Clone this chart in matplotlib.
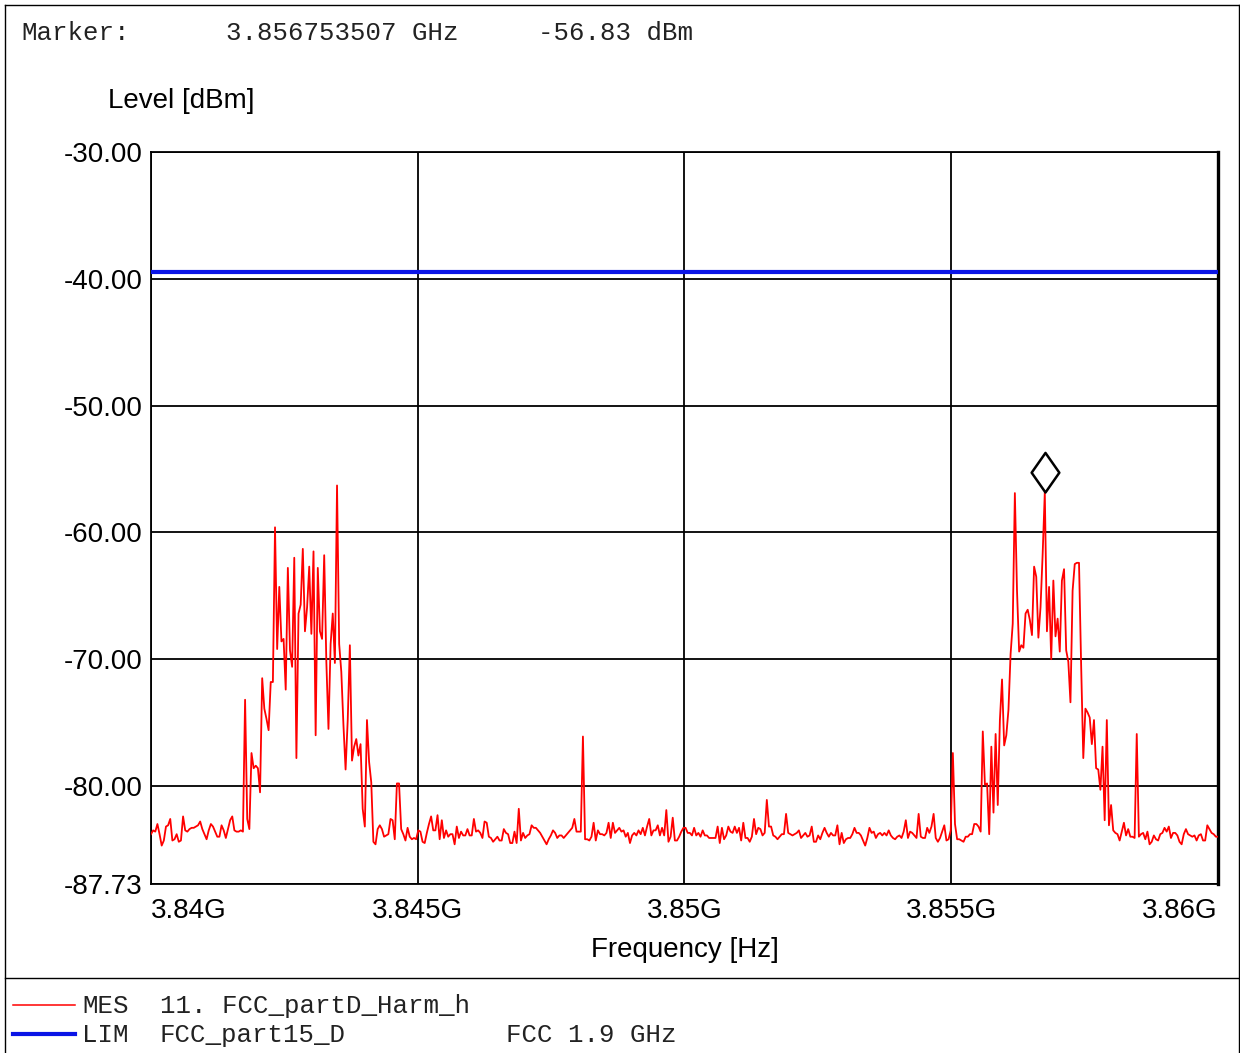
import numpy as np
import matplotlib
matplotlib.use("Agg")
import matplotlib.pyplot as plt
from matplotlib.lines import Line2D
from matplotlib.path import Path

# sweep settings: 3.84 - 3.86 GHz, 500 points
f_start = 3.84e9
f_stop = 3.86e9
n_points = 500

# measured level [dBm], one value per sweep point
level = [
    -83.8, -83.5, -83.6, -83.0, -83.8, -84.7, -84.3, -83.2, -83.1, -82.6,
    -84.3, -84.2, -83.8, -84.4, -84.3, -82.4, -83.5, -83.6, -83.4, -83.3,
    -83.3, -83.2, -83.1, -82.8, -83.4, -83.8, -84.2, -83.5, -83.0, -83.2,
    -83.6, -84.0, -84.0, -83.1, -83.5, -84.1, -83.4, -82.7, -82.4, -83.5,
    -83.6, -83.6, -83.5, -83.6, -73.2, -82.6, -83.4, -77.4, -78.6, -78.4,
    -78.6, -80.5, -71.5, -73.9, -74.7, -75.6, -71.8, -71.8, -59.6, -69.2,
    -64.3, -68.6, -68.4, -72.4, -62.8, -69.3, -70.6, -62.0, -77.8, -66.4,
    -65.7, -61.3, -67.8, -65.9, -62.7, -68.0, -61.5, -76.0, -62.8, -67.8,
    -68.4, -61.8, -70.2, -75.5, -68.8, -66.4, -70.3, -56.3, -68.8, -71.0,
    -75.2, -78.7, -74.8, -68.9, -78.0, -76.9, -76.3, -77.6, -76.7, -81.8,
    -83.2, -74.8, -78.1, -79.7, -84.4, -84.6, -83.4, -83.1, -83.4, -84.0,
    -83.9, -83.8, -82.6, -82.7, -84.2, -79.8, -79.8, -83.4, -83.8, -84.3,
    -83.3, -84.0, -84.2, -84.1, -84.2, -83.5, -83.6, -84.4, -84.5, -83.7,
    -83.0, -82.4, -83.5, -83.5, -82.3, -84.2, -82.7, -84.1, -83.5, -84.0,
    -83.8, -83.8, -84.6, -83.2, -84.1, -83.6, -83.9, -83.9, -83.4, -83.9,
    -83.9, -82.6, -83.6, -83.5, -83.7, -84.1, -82.8, -82.9, -84.0, -84.1,
    -84.4, -84.2, -84.0, -84.3, -84.3, -83.4, -83.7, -83.8, -84.5, -84.5,
    -83.6, -84.5, -81.8, -84.3, -83.7, -84.1, -83.9, -83.8, -83.1, -83.3,
    -83.3, -83.5, -83.7, -84.0, -84.3, -84.6, -84.2, -83.9, -83.5, -83.7,
    -84.1, -83.9, -83.9, -84.1, -83.9, -83.7, -83.5, -83.3, -82.6, -83.6,
    -83.6, -83.6, -76.1, -84.2, -84.2, -84.3, -84.0, -82.9, -84.3, -83.5,
    -83.8, -83.8, -83.9, -83.7, -82.9, -84.1, -82.9, -83.7, -83.5, -83.3,
    -83.6, -83.5, -84.0, -83.7, -84.5, -83.9, -83.7, -83.9, -83.5, -83.8,
    -83.3, -83.9, -83.2, -82.6, -83.9, -83.5, -83.5, -83.1, -83.9, -83.3,
    -83.9, -81.9, -84.4, -84.0, -82.5, -84.3, -84.3, -84.0, -83.6, -83.3,
    -83.3, -83.7, -83.7, -83.9, -83.3, -83.9, -83.7, -84.0, -83.5, -83.9,
    -83.9, -84.1, -84.1, -84.1, -84.1, -83.2, -84.5, -83.3, -84.2, -83.9,
    -83.2, -83.6, -83.7, -83.2, -83.7, -83.3, -84.3, -82.9, -84.1, -84.1,
    -84.4, -84.0, -82.6, -83.8, -83.3, -83.4, -83.9, -83.7, -81.1, -83.2,
    -83.2, -83.9, -84.0, -84.2, -84.0, -83.8, -83.8, -82.2, -83.7, -83.8,
    -83.9, -83.8, -83.7, -83.5, -84.1, -83.9, -83.7, -84.0, -83.9, -83.2,
    -84.4, -84.4, -83.9, -84.2, -83.7, -83.3, -83.7, -84.0, -83.7, -83.9,
    -83.9, -83.1, -84.6, -83.7, -84.5, -84.2, -84.1, -84.1, -83.8, -83.3,
    -83.7, -83.7, -83.9, -84.3, -84.7, -84.1, -83.3, -83.7, -83.6, -84.1,
    -83.8, -83.7, -83.9, -83.7, -83.9, -83.5, -83.9, -84.1, -84.2, -84.0,
    -83.9, -84.1, -83.6, -82.7, -84.1, -83.6, -83.7, -83.9, -84.1, -82.2,
    -84.0, -84.1, -84.1, -83.3, -83.7, -83.2, -82.2, -84.1, -84.4, -84.1,
    -83.6, -83.1, -84.3, -84.2, -83.5, -77.4, -83.0, -84.2, -84.2, -84.3,
    -84.4, -84.0, -84.0, -83.8, -83.8, -83.0, -83.0, -83.2, -83.6, -75.7,
    -79.9, -79.8, -83.8, -76.9, -82.1, -75.9, -81.5, -74.8, -71.6, -76.8,
    -76.0, -74.0, -69.6, -67.2, -56.9, -64.6, -69.4, -68.9, -69.1, -66.4,
    -66.1, -66.9, -68.1, -62.7, -63.5, -68.3, -65.9, -61.7, -56.83, -67.8,
    -64.3, -70.0, -63.8, -68.2, -66.8, -69.4, -63.8, -62.9, -69.3, -70.2,
    -73.4, -64.6, -62.5, -62.4, -62.4, -70.5, -77.8, -73.9, -74.2, -74.6,
    -76.7, -74.8, -78.6, -78.7, -80.3, -76.9, -82.7, -74.8, -83.1, -81.5,
    -83.5, -83.7, -83.8, -84.3, -83.6, -82.9, -83.9, -83.4, -84.0, -84.0,
    -84.1, -75.9, -84.0, -83.8, -83.7, -84.2, -83.6, -84.6, -84.4, -83.9,
    -84.2, -84.3, -83.8, -83.7, -83.3, -83.6, -83.2, -84.1, -83.7, -83.7,
    -83.9, -84.4, -84.6, -83.8, -83.4, -83.8, -83.9, -84.0, -83.9, -84.3,
    -83.9, -83.8, -84.3, -84.3, -83.1, -83.4, -83.7, -83.8, -84.0, -84.0,
]

limit_level = -39.45
marker_index = 418
marker_freq_ghz = 3.856753507
marker_level = -56.83

y_ticks = [-87.73, -80.0, -70.0, -60.0, -50.0, -40.0, -30.0]
x_ticks = [3.84e9, 3.845e9, 3.85e9, 3.855e9, 3.86e9]
x_tick_labels = ["3.84G", "3.845G", "3.85G", "3.855G", "3.86G"]

freq = np.linspace(f_start, f_stop, n_points)

SANS = "Liberation Sans"
MONO = "Liberation Mono"
W, H = 1240, 1053

fig = plt.figure(figsize=(W / 100, H / 100), dpi=100)
ax = fig.add_axes([151 / W, 1 - 884 / H, 1067 / W, 732 / H])

ax.plot(freq, level, color="red", lw=1.3, zorder=3)
ax.axhline(limit_level, color="#0a14e6", lw=3.0, zorder=4)

# marker diamond sits on top of the marked point
diamond = Path([(0, 0), (0.7, 1), (0, 2), (-0.7, 1), (0, 0)],
               [Path.MOVETO, Path.LINETO, Path.LINETO, Path.LINETO, Path.CLOSEPOLY])
ax.plot(freq[marker_index], level[marker_index], marker=diamond, ms=57,
        mfc="white", mec="black", mew=1.8, zorder=5, clip_on=False)

ax.set_xlim(f_start, f_stop)
ax.set_ylim(y_ticks[0], y_ticks[-1])
ax.set_xticks(x_ticks)
ax.set_xticklabels(x_tick_labels)
ax.set_yticks(y_ticks)
ax.set_yticklabels([f"{v:.2f}" for v in y_ticks])
ax.tick_params(length=0, labelsize=20)
ax.tick_params(axis="y", pad=6)
ax.tick_params(axis="x", pad=10)
for lab in ax.get_xticklabels() + ax.get_yticklabels():
    lab.set_fontfamily(SANS)
xl = ax.get_xticklabels()
xl[0].set_ha("left")
xl[-1].set_ha("right")

ax.grid(True, color="black", lw=1.3)
for name, sp in ax.spines.items():
    sp.set_color("black")
    sp.set_linewidth(1.3)
ax.spines["right"].set_linewidth(2.4)

fig.text(108 / W, 1 - 108 / H, "Level [dBm]", fontsize=20, family=SANS, va="baseline")
fig.text(685 / W, 1 - 957 / H, "Frequency [Hz]", fontsize=20, family=SANS,
         va="baseline", ha="center")

# marker readout
fig.text(21 / W, 1 - 40 / H, "Marker:", fontsize=18.5, family=MONO, va="baseline", color="#222222")
fig.text(226 / W, 1 - 40 / H, f"{marker_freq_ghz:.9f} GHz", fontsize=18.5, family=MONO,
         va="baseline", color="#222222")
fig.text(538 / W, 1 - 40 / H, f"{marker_level:.2f} dBm", fontsize=18.5, family=MONO,
         va="baseline", color="#222222")

# trace legend below the plot
fig.add_artist(Line2D([13 / W, 75 / W], [1 - 1005 / H] * 2, color="red", lw=1.1))
fig.add_artist(Line2D([13 / W, 75 / W], [1 - 1034 / H] * 2, color="#0a14e6", lw=3.0))
fig.text(82 / W, 1 - 1013 / H, "MES", fontsize=18.5, family=MONO, va="baseline", color="#222222")
fig.text(160 / W, 1 - 1013 / H, "11. FCC_partD_Harm_h", fontsize=18.5, family=MONO,
         va="baseline", color="#222222")
fig.text(82 / W, 1 - 1042 / H, "LIM", fontsize=18.5, family=MONO, va="baseline", color="#222222")
fig.text(160 / W, 1 - 1042 / H, "FCC_part15_D", fontsize=18.5, family=MONO,
         va="baseline", color="#222222")
fig.text(506 / W, 1 - 1042 / H, "FCC 1.9 GHz", fontsize=18.5, family=MONO,
         va="baseline", color="#222222")

# page frame and separator
frame_kw = dict(color="black", lw=1.0)
fig.add_artist(Line2D([5 / W, 1239 / W], [1 - 5 / H] * 2, **frame_kw))
fig.add_artist(Line2D([5 / W] * 2, [0, 1 - 5 / H], **frame_kw))
fig.add_artist(Line2D([1239 / W] * 2, [0, 1 - 5 / H], **frame_kw))
fig.add_artist(Line2D([5 / W, 1239 / W], [1 - 978 / H] * 2, **frame_kw))

fig.savefig("out.png", dpi=100)
